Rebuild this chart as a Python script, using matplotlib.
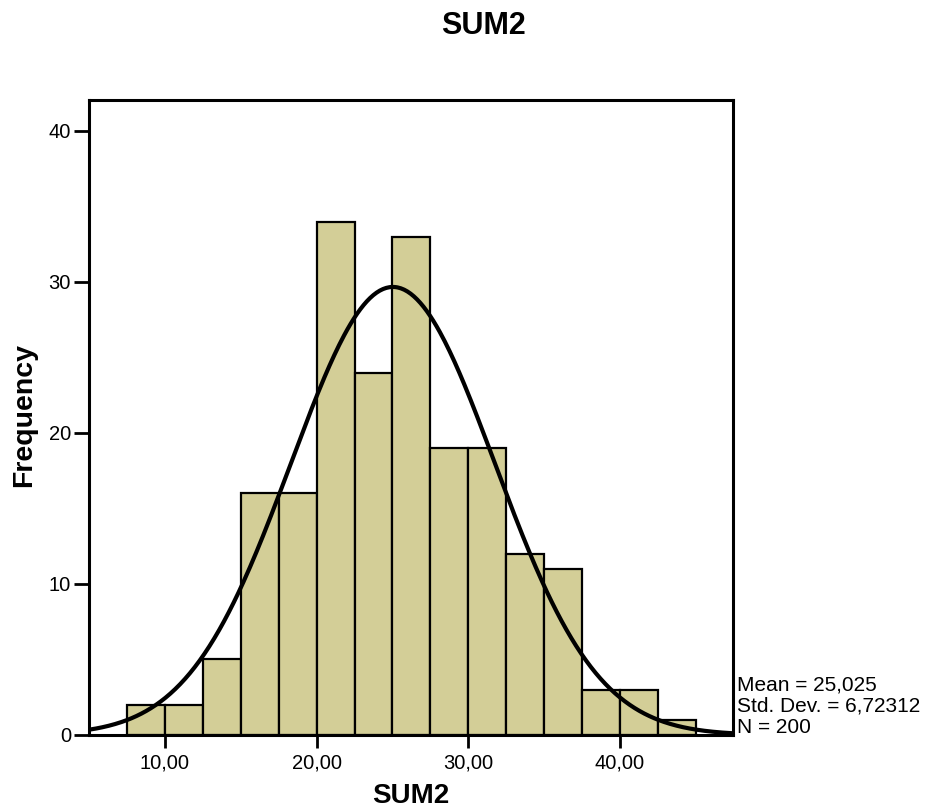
import numpy as np
import matplotlib.pyplot as plt

plt.rcParams['font.family'] = ['Liberation Sans', 'DejaVu Sans']

# histogram bins (width 2.5) and counts
bin_edges = [7.5, 10, 12.5, 15, 17.5, 20, 22.5, 25, 27.5, 30, 32.5, 35, 37.5, 40, 42.5, 45]
counts = [2, 2, 5, 16, 16, 34, 24, 33, 19, 19, 12, 11, 3, 3, 1]
mean = 25.025
std = 6.72312
n = 200
xtick_vals = [10, 20, 30, 40]
xtick_labels = ['10,00', '20,00', '30,00', '40,00']
ytick_vals = [0, 10, 20, 30, 40]

W, H = 928, 808
fig = plt.figure(figsize=(W / 100, H / 100), dpi=100)
ax = fig.add_axes([89 / W, 1 - 735 / H, (733 - 89) / W, (735 - 100) / H])

lefts = bin_edges[:-1]
widths = np.diff(bin_edges)
ax.bar(lefts, counts, width=widths, align='edge', color='#D3CE97',
       edgecolor='black', linewidth=1.6)

# normal curve scaled to counts
x = np.linspace(4.9, 47.6, 400)
bw = 2.5
y = n * bw / (std * np.sqrt(2 * np.pi)) * np.exp(-0.5 * ((x - mean) / std) ** 2)
ax.plot(x, y, color='black', linewidth=3)

ax.set_xlim(4.99, 47.45)
ax.set_ylim(0, 42.05)
ax.set_xticks(xtick_vals)
ax.set_xticklabels(xtick_labels)
ax.set_yticks(ytick_vals)
ax.tick_params(axis='both', labelsize=14.5, width=2, direction='out', pad=2)
ax.tick_params(axis='y', length=11)
ax.tick_params(axis='x', length=9, pad=4)
for s in ax.spines.values():
    s.set_linewidth(2.2)

fig.text(411 / W, 1 - 796 / H, 'SUM2', fontsize=20, fontweight='bold', ha='center', va='center')
fig.text(24 / W, 1 - 415 / H, 'Frequency', fontsize=20.5, fontweight='bold',
         ha='center', va='center', rotation=90)
fig.text(483 / W, 1 - 26 / H, 'SUM2', fontsize=22, fontweight='bold', ha='center', va='center')

fig.text(737 / W, 1 - 706 / H, 'Mean = 25,025\nStd. Dev. = 6,72312\nN = 200',
         fontsize=15, ha='left', va='center', linespacing=1.15)

fig.savefig('out.png', dpi=100)
